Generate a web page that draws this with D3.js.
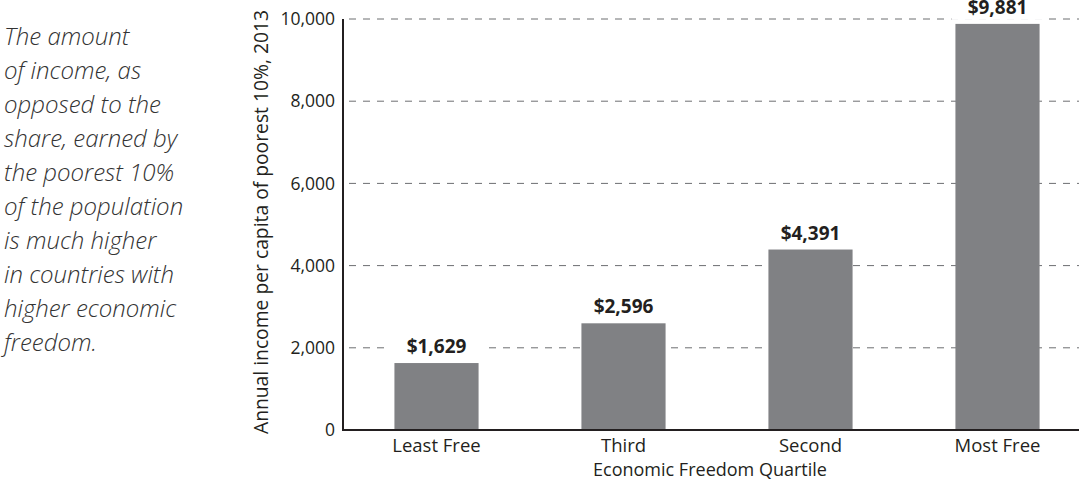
<!DOCTYPE html>
<html lang="en">
<head>
<meta charset="UTF-8">
<title>Income of poorest 10% by economic freedom</title>
<script src="https://cdn.jsdelivr.net/npm/d3@7"></script>
<style>
  body { margin: 0; background: #fff; }
  svg { display: block; }
</style>
</head>
<body>
<svg width="1079" height="485"></svg>
<script>
    // data
    var categories = ["Least Free", "Third", "Second", "Most Free"];
    var incomes = [1629, 2596, 4391, 9881];
    var yTicks = [0, 2000, 4000, 6000, 8000, 10000];
    var noteLines = ["The amount", "of income, as", "opposed to the", "share, earned by",
        "the poorest 10%", "of the population", "is much higher", "in countries with",
        "higher economic", "freedom."];

    var svg = d3.select("svg"),
        width = +svg.attr("width"),
        height = +svg.attr("height");

    var font = "'Open Sans', 'Noto Sans', sans-serif";
    var ink = "#231f20";

    var x = d3.scaleBand()
        .domain(categories)
        .range([343, 343 + 4 * 187])
        .paddingInner(0.55)
        .paddingOuter(0.275);

    var y = d3.scaleLinear()
        .domain([0, 10000])
        .range([430, 19]);

    // side note
    svg.append("g")
        .selectAll("text")
        .data(noteLines)
        .enter().append("text")
        .attr("x", 4)
        .attr("y", function(d, i) { return 45 + i * 34; })
        .style("font-family", font)
        .style("font-style", "italic")
        .style("font-weight", 300)
        .style("font-size", "24px")
        .style("letter-spacing", "0px")
        .attr("fill", "#333")
        .text(function(d) { return d; });

    // gridlines
    svg.append("g")
        .selectAll("line")
        .data(yTicks.filter(function(d) { return d > 0; }))
        .enter().append("line")
        .attr("x1", 344)
        .attr("x2", width)
        .attr("y1", function(d) { return y(d); })
        .attr("y2", function(d) { return y(d); })
        .attr("stroke", "#6d6e71")
        .attr("stroke-width", 1)
        .attr("stroke-dasharray", "7,7")
        .attr("stroke-dashoffset", -5);

    // bars
    svg.append("g")
        .selectAll("rect")
        .data(incomes)
        .enter().append("rect")
        .attr("x", function(d, i) { return x(categories[i]); })
        .attr("y", function(d) { return y(d); })
        .attr("width", x.bandwidth())
        .attr("height", function(d) { return y(0) - y(d); })
        .attr("fill", "#808184");

    // value labels with white backing to break gridlines
    var lab = svg.append("g")
        .selectAll("g")
        .data(incomes)
        .enter().append("g")
        .attr("transform", function(d, i) {
            return "translate(" + (x(categories[i]) + x.bandwidth() / 2) + "," + (y(d) - 10) + ")";
        });
    lab.append("rect")
        .attr("x", -46)
        .attr("y", -18)
        .attr("width", 92)
        .attr("height", 24)
        .attr("fill", "#fff");
    lab.append("text")
        .attr("text-anchor", "middle")
        .style("font-family", font)
        .style("font-weight", 700)
        .style("font-size", "19px")
        .attr("fill", ink)
        .text(function(d) { return "$" + d3.format(",")(d); });

    // y axis
    var yAxis = svg.append("g")
        .attr("transform", "translate(343,0)")
        .call(d3.axisLeft(y).tickValues(yTicks).tickFormat(d3.format(",")).tickSize(0).tickPadding(8));
    yAxis.select(".domain").remove();
    yAxis.selectAll("text")
        .style("font-family", font)
        .style("font-size", "17.5px")
        .attr("fill", ink);

    // x axis
    var xAxis = svg.append("g")
        .attr("transform", "translate(0,430)")
        .call(d3.axisBottom(x).tickSize(0).tickPadding(9));
    xAxis.select(".domain").remove();
    xAxis.selectAll("text")
        .style("font-family", font)
        .style("font-size", "18.5px")
        .attr("fill", ink);

    // axis lines
    svg.append("path")
        .attr("d", "M343," + y(10000) + "V" + y(0) + "H" + width)
        .attr("fill", "none")
        .attr("stroke", ink)
        .attr("stroke-width", 2);

    // titles
    svg.append("text")
        .attr("transform", "translate(268," + 222 + ") rotate(-90)")
        .attr("text-anchor", "middle")
        .style("font-family", font)
        .style("font-size", "19.3px")
        .attr("fill", ink)
        .text("Annual income per capita of poorest 10%, 2013");

    svg.append("text")
        .attr("x", 710)
        .attr("y", 476)
        .attr("text-anchor", "middle")
        .style("font-family", font)
        .style("font-size", "18px")
        .attr("fill", ink)
        .text("Economic Freedom Quartile");
</script>
</body>
</html>
